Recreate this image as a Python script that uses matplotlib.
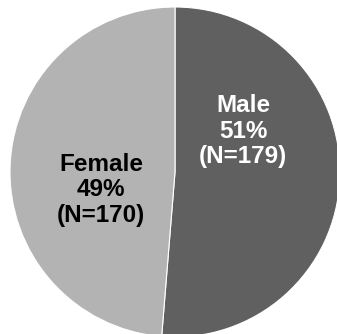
import matplotlib
matplotlib.use("Agg")
import matplotlib.pyplot as plt

categories = ["Male", "Female"]
counts = [179, 170]
percents = [51, 49]
colors = ["#606060", "#b3b3b3"]
text_colors = ["white", "black"]

W, H = 337, 334
fig = plt.figure(figsize=(W / 100, H / 100), dpi=100)
ax = fig.add_axes([0, 0, 1, 1])

ax.pie(counts, colors=colors, startangle=90, counterclock=False,
       center=(175, 162), radius=165, frame=True,
       wedgeprops=dict(edgecolor="white", linewidth=0.8))
ax.set_xlim(0, W)
ax.set_ylim(0, H)
ax.set_aspect("equal")
ax.axis("off")

label_pos = [(243, 203), (101, 144)]
for cat, n, p, tc, (x, y) in zip(categories, counts, percents, text_colors, label_pos):
    ax.text(x, y, f"{cat}\n{p}%\n(N={n})", ha="center", va="center",
            color=tc, fontsize=17.5, fontweight="bold",
            family="Liberation Sans", linespacing=1.12)

fig.savefig("out.png", dpi=100)
